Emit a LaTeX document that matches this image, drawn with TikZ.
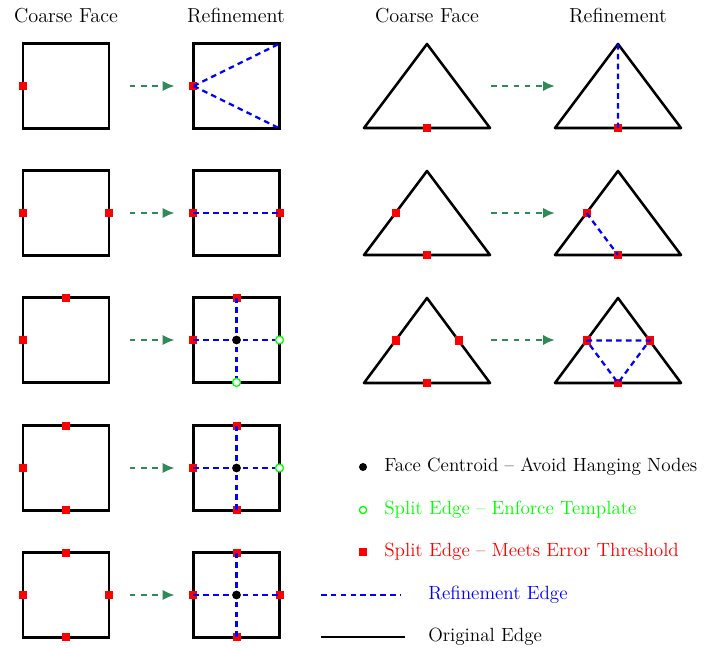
\documentclass[tikz,border=0pt]{standalone}
\usepackage{tikz}
\usetikzlibrary{arrows.meta,positioning,calc}
\definecolor{arrgreen}{RGB}{46,139,87}
\definecolor{tmplgreen}{RGB}{0,255,0}

\begin{document}
\begin{tikzpicture}[x=0.025cm,y=-0.025cm,>={Latex[length=3mm,width=2.6mm]},every node/.style={font=\Large}]
\tikzstyle{face}=[draw,line width=1.8pt,minimum width=2.15cm,minimum height=2.12cm,inner sep=0,outer sep=0]
\tikzstyle{orig}=[line width=1.8pt,line join=round]
\tikzstyle{ref}=[blue,line width=1.6pt,dash pattern=on 4pt off 3pt]
\tikzstyle{err}=[fill=red,minimum size=2mm,inner sep=0]
\tikzstyle{tmpl}=[circle,draw=tmplgreen,fill=white,line width=0.9pt,minimum size=2mm,inner sep=0]
\tikzstyle{cen}=[circle,fill=black,minimum size=2.2mm,inner sep=0]
\tikzstyle{go}=[->,arrgreen,line width=1.8pt,dash pattern=on 4pt off 4pt,shorten <=0.52cm,shorten >=0.47cm]
\tikzstyle{lbl}=[anchor=west,inner sep=0,font=\fontsize{13.6}{16}\selectfont]
\useasboundingbox (0,0) rectangle (709,648);

% headers
\node (h1) at (66,16) {Coarse Face};
\node (h2) at (236,16) {Refinement};
\node (h3) at (427,16) {Coarse Face};
\node (h4) at (618,16) {Refinement};

% quad faces
\node[face] (cs1) at (66,86) {};
\node[face] (rs1) at (236.5,86) {};
\node[face] (cs2) at (66,213) {};
\node[face] (rs2) at (236.5,213) {};
\node[face] (cs3) at (66,340) {};
\node[face] (rs3) at (236.5,340) {};
\node[face] (cs4) at (66,468) {};
\node[face] (rs4) at (236.5,468) {};
\node[face] (cs5) at (66,595) {};
\node[face] (rs5) at (236.5,595) {};
\draw[go] (cs1) -- (rs1);
\draw[go] (cs2) -- (rs2);
\draw[go] (cs3) -- (rs3);
\draw[go] (cs4) -- (rs4);
\draw[go] (cs5) -- (rs5);

% tri faces
\coordinate (tA1) at (427,44);  \coordinate (tL1) at (364,128); \coordinate (tR1) at (490,128);
\coordinate (rA1) at (618,44);  \coordinate (rL1) at (555,128); \coordinate (rR1) at (681,128);
\coordinate (tA2) at (427,171); \coordinate (tL2) at (364,255); \coordinate (tR2) at (490,255);
\coordinate (rA2) at (618,171); \coordinate (rL2) at (555,255); \coordinate (rR2) at (681,255);
\coordinate (tA3) at (427,298); \coordinate (tL3) at (364,383); \coordinate (tR3) at (490,383);
\coordinate (rA3) at (618,298); \coordinate (rL3) at (555,383); \coordinate (rR3) at (681,383);
\draw[orig] (tA1) -- (tL1) -- (tR1) -- cycle;
\draw[orig] (rA1) -- (rL1) -- (rR1) -- cycle;
\draw[orig] (tA2) -- (tL2) -- (tR2) -- cycle;
\draw[orig] (rA2) -- (rL2) -- (rR2) -- cycle;
\draw[orig] (tA3) -- (tL3) -- (tR3) -- cycle;
\draw[orig] (rA3) -- (rL3) -- (rR3) -- cycle;
\coordinate (ts1) at (491,86);  \coordinate (te1) at (555,86);
\coordinate (ts2) at (491,213); \coordinate (te2) at (555,213);
\coordinate (ts3) at (491,340); \coordinate (te3) at (555,340);
\draw[go,shorten <=0pt,shorten >=0pt] (ts1) -- (te1);
\draw[go,shorten <=0pt,shorten >=0pt] (ts2) -- (te2);
\draw[go,shorten <=0pt,shorten >=0pt] (ts3) -- (te3);

% split edges (error)
\node[err] (e1a) at (cs1.west) {};
\node[err] (e1b) at (rs1.west) {};
\node[err] (e2a) at (cs2.west) {};
\node[err] (e2b) at (cs2.east) {};
\node[err] (e2c) at (rs2.west) {};
\node[err] (e2d) at (rs2.east) {};
\node[err] (e3a) at (cs3.west) {};
\node[err] (e3b) at (cs3.north) {};
\node[err] (e3c) at (rs3.west) {};
\node[err] (e3d) at (rs3.north) {};
\node[err] (e4a) at (cs4.west) {};
\node[err] (e4b) at (cs4.north) {};
\node[err] (e4c) at (cs4.south) {};
\node[err] (e4d) at (rs4.west) {};
\node[err] (e4e) at (rs4.north) {};
\node[err] (e4f) at (rs4.south) {};
\node[err] (e5a) at (cs5.west) {};
\node[err] (e5b) at (cs5.north) {};
\node[err] (e5c) at (cs5.south) {};
\node[err] (e5d) at (cs5.east) {};
\node[err] (e5e) at (rs5.west) {};
\node[err] (e5f) at (rs5.north) {};
\node[err] (e5g) at (rs5.south) {};
\node[err] (e5h) at (rs5.east) {};
\node[err] (f1a) at ($(tL1)!0.5!(tR1)$) {};
\node[err] (f1b) at ($(rL1)!0.5!(rR1)$) {};
\node[err] (f2a) at ($(tA2)!0.5!(tL2)$) {};
\node[err] (f2b) at ($(tL2)!0.5!(tR2)$) {};
\node[err] (f2c) at ($(rA2)!0.5!(rL2)$) {};
\node[err] (f2d) at ($(rL2)!0.5!(rR2)$) {};
\node[err] (f3a) at ($(tA3)!0.5!(tL3)$) {};
\node[err] (f3b) at ($(tA3)!0.5!(tR3)$) {};
\node[err] (f3c) at ($(tL3)!0.5!(tR3)$) {};
\node[err] (f3d) at ($(rA3)!0.5!(rL3)$) {};
\node[err] (f3e) at ($(rA3)!0.5!(rR3)$) {};
\node[err] (f3f) at ($(rL3)!0.5!(rR3)$) {};

% refinement edges
\draw[ref] (e1b.center) -- (rs1.north east);
\draw[ref] (e1b.center) -- (rs1.south east);
\draw[ref] (e2c.center) -- (e2d.center);
\draw[ref] (e3c.center) -- (rs3.east);
\draw[ref] (e3d.center) -- (rs3.south);
\draw[ref] (e4d.center) -- (rs4.east);
\draw[ref] (e4e.center) -- (e4f.center);
\draw[ref] (e5e.center) -- (e5h.center);
\draw[ref] (e5f.center) -- (e5g.center);
\draw[ref] (rA1) -- (f1b.center);
\draw[ref] (f2c.center) -- (f2d.center);
\draw[ref] (f3d.center) -- (f3e.center) -- (f3f.center) -- cycle;

% split edges (template) and centroids
\node[tmpl] (g3a) at (rs3.east) {};
\node[tmpl] (g3b) at (rs3.south) {};
\node[tmpl] (g4a) at (rs4.east) {};
\node[cen] (c3) at (rs3.center) {};
\node[cen] (c4) at (rs4.center) {};
\node[cen] (c5) at (rs5.center) {};

% legend
\node[cen,minimum size=2mm] (lc) at (363,467) {};
\node[lbl] (lt1) at (384,467) {Face Centroid -- Avoid Hanging Nodes};
\node[tmpl,minimum size=1.8mm] (lg) at (363,510) {};
\node[lbl,text=tmplgreen] (lt2) at (384,510) {Split Edge -- Enforce Template};
\node[err,minimum size=1.8mm] (le) at (363,552) {};
\node[lbl,text=red] (lt3) at (384,552) {Split Edge -- Meets Error Threshold};
\coordinate (lr1) at (321,595); \coordinate (lr2) at (401,595);
\draw[ref] (lr1) -- (lr2);
\node[lbl,text=blue] (lt4) at (428,595) {Refinement Edge};
\coordinate (lo1) at (321,637); \coordinate (lo2) at (405,637);
\draw[orig] (lo1) -- (lo2);
\node[lbl] (lt5) at (428,637) {Original Edge};
\end{tikzpicture}
\end{document}
